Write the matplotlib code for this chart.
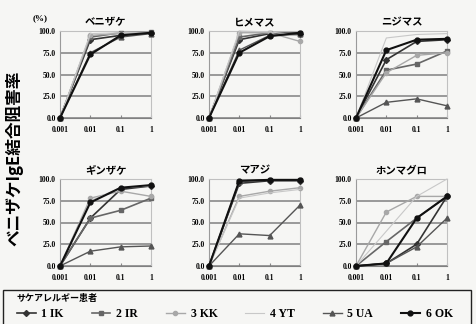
import matplotlib.pyplot as plt
from matplotlib.patches import Rectangle

plt.rcParams['font.family'] = ['Liberation Serif', 'Noto Sans CJK JP', 'DejaVu Sans']

# concentrations (category axis)
doses = ["0.001", "0.01", "0.1", "1"]

# fish species (one panel each)
fish = ["ベニザケ", "ヒメマス", "ニジマス", "ギンザケ", "マアジ", "ホンマグロ"]

# salmon allergy patients
patients = ["1 IK", "2 IR", "3 KK", "4 YT", "5 UA", "6 OK"]

# inhibition (%) per fish -> per patient
beni = [[0, 90, 95, 98], [0, 93, 98, 99], [0, 95, 97, 98],
        [0, 97, 98, 99], [0, 75, 93, 97], [0, 73, 95, 98]]
hime = [[0, 90, 97, 97], [0, 93, 98, 98], [0, 98, 98, 88],
        [0, 100, 99, 95], [0, 78, 95, 96], [0, 75, 94, 98]]
niji = [[0, 67, 88, 90], [0, 55, 62, 77], [0, 52, 72, 75],
        [0, 92, 96, 97], [0, 18, 22, 14], [0, 78, 90, 91]]
ginz = [[0, 55, 88, 92], [0, 55, 64, 78], [0, 78, 86, 80],
        [0, 75, 90, 92], [0, 17, 22, 23], [0, 73, 90, 93]]
maaji = [[0, 95, 98, 98], [0, 97, 99, 99], [0, 80, 86, 90],
         [0, 78, 84, 88], [0, 37, 35, 70], [0, 98, 99, 99]]
maguro = [[0, 3, 25, 80], [0, 28, 55, 80], [0, 62, 80, 80],
          [0, 40, 80, 100], [0, 3, 22, 55], [0, 3, 55, 80]]
values = [beni, hime, niji, ginz, maaji, maguro]

colors = ["#333333", "#666666", "#a8a8a8", "#c8c8c8", "#555555", "#111111"]
markers = ["D", "s", "o", "", "^", "o"]
msizes = [3, 3.5, 3, 0, 3.5, 3.5]
lwidths = [1.2, 1.2, 1.0, 0.8, 1.0, 1.5]

bg = "#f6f6f4"
fig = plt.figure(figsize=(4.76, 3.24), dpi=100, facecolor=bg)

lefts = [60, 209, 356]
tops = [31, 179]
W, H = 476, 324
aw, ah = 91, 87

handles = []
for i, name in enumerate(fish):
    r, c = divmod(i, 3)
    x0 = lefts[c] / W
    y0 = 1 - (tops[r] + ah) / H
    ax = fig.add_axes([x0, y0, aw / W, ah / H])
    ax.set_facecolor(bg)
    xs = range(len(doses))
    for k in range(len(patients)):
        ln, = ax.plot(xs, values[i][k], color=colors[k], marker=markers[k] or None,
                      ms=msizes[k], lw=lwidths[k], clip_on=False, zorder=3)
        if i == 0:
            handles.append(ln)
    ax.set_xlim(0, 3)
    ax.set_ylim(0, 100)
    ax.set_yticks([0, 25, 50, 75, 100])
    ax.set_yticklabels(["0.0", "25.0", "50.0", "75.0", "100.0"])
    ax.set_xticks(list(xs))
    ax.set_xticklabels(doses)
    ax.yaxis.grid(True, color="#808080", lw=1.1)
    ax.set_axisbelow(True)
    ax.tick_params(axis="y", length=0, labelsize=5.5, pad=3)
    ax.tick_params(axis="x", direction="in", length=2, labelsize=5.5, pad=6, color="#888888")
    for lab in ax.get_xticklabels() + ax.get_yticklabels():
        lab.set_fontweight("bold")
    for s in ["top", "right"]:
        ax.spines[s].set_color("#c0c0c0")
        ax.spines[s].set_linewidth(0.8)
    ax.spines["left"].set_color("#9a9a9a")
    ax.spines["bottom"].set_color("#808080")
    ax.set_title(name, fontsize=7.5, fontweight="bold", family="Noto Sans CJK JP", pad=4)

fig.text(40 / W, 1 - 18 / H, "(%)", fontsize=6.5, fontweight="bold", ha="center", va="center")
fig.text(14 / W, 1 - 158 / H, "ベニザケIgE結合阻害率", rotation=90, fontsize=12,
         fontweight="bold", ha="center", va="center",
         family=["Noto Sans CJK JP", "DejaVu Sans"])

# legend box (runs off the bottom as in the scan)
fig.patches.append(Rectangle((3 / W, -0.05), 468 / W, 0.05 + 1 - 290 / H,
                             transform=fig.transFigure, fill=False, ec="#222222", lw=1.0))
fig.text(16 / W, 1 - 298 / H, "サケアレルギー患者", fontsize=6.5, fontweight="bold",
         family="Noto Sans CJK JP", ha="left", va="center")
leg = fig.legend(handles, patients, loc="center left", bbox_to_anchor=(6 / W, 1 - 314 / H),
                 ncol=6, frameon=False, handlelength=1.6, handletextpad=0.5,
                 columnspacing=2.35, prop={"family": "Liberation Serif", "weight": "bold", "size": 8.5})

fig.savefig("out.png", dpi=100, facecolor=bg)
